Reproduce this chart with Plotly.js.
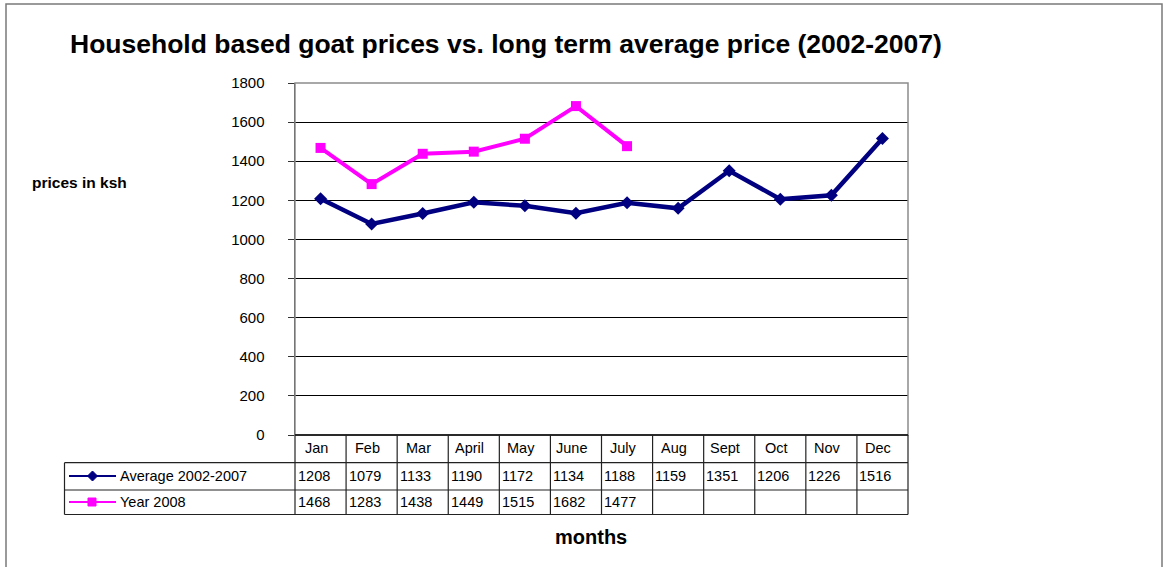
<!DOCTYPE html>
<html>
<head>
<meta charset="utf-8">
<script src="https://cdn.plot.ly/plotly-3.0.1.min.js"></script>
<style>html,body{margin:0;padding:0;background:#fff;}#chart{width:1163px;height:567px;}</style>
</head>
<body>
<div id="chart"></div>
<script>
var months = ["Jan","Feb","Mar","April","May","June","July","Aug","Sept","Oct","Nov","Dec"];
var avg0207 = [1208,1079,1133,1190,1172,1134,1188,1159,1351,1206,1226,1516];
var year2008 = [1468,1283,1438,1449,1515,1682,1477];
var seriesNames = ["Average 2002-2007","Year 2008"];
var yTicks = [0,200,400,600,800,1000,1200,1400,1600,1800];

var W = 1163, H = 567;
var L = 295, R = 908, T = 83, B = 435;
function px(p){ return (p - L) / (R - L); }
function py(p){ return (B - p) / (B - T); }

var FONT = "Arial, 'Liberation Sans', sans-serif";
var navy = "#000080", magenta = "#FF00FF";

var traces = [
  {x: months, y: avg0207, type: "scatter", mode: "lines+markers", name: seriesNames[0],
   line: {color: navy, width: 4.5}, marker: {symbol: "diamond", size: 10, color: navy}, cliponaxis: false},
  {x: months.slice(0, year2008.length), y: year2008, type: "scatter", mode: "lines+markers", name: seriesNames[1],
   line: {color: magenta, width: 4}, marker: {symbol: "square", size: 10, color: magenta}, cliponaxis: false}
];

var shapes = [];
var annotations = [];
var lineCol = "#222";
// outer chart border
shapes.push({type: "rect", xref: "paper", yref: "paper", x0: px(6), x1: px(1162), y0: py(580), y1: py(4),
  line: {color: "#7a7a7a", width: 1.5}, layer: "below"});
// plot area border (gray)
shapes.push({type: "rect", xref: "paper", yref: "paper", x0: 0, x1: 1, y0: 0, y1: 1,
  line: {color: "#8c8c8c", width: 1.5}, layer: "above"});
// table horizontal lines
var rowLines = [462.7, 490, 514.5];
shapes.push({type: "line", xref: "paper", yref: "paper", x0: 0, x1: 1, y0: 0, y1: 0, line: {color: "#000", width: 1.5}});
rowLines.forEach(function(r){
  shapes.push({type: "line", xref: "paper", yref: "paper", x0: px(64.5), x1: 1, y0: py(r), y1: py(r), line: {color: lineCol, width: 1.2}});
});
// left edge of legend cells
shapes.push({type: "line", xref: "paper", yref: "paper", x0: px(64.5), x1: px(64.5), y0: py(462.7), y1: py(514.5), line: {color: lineCol, width: 1.2}});
// table vertical lines
for (var i = 0; i <= months.length; i++) {
  var xf = i / months.length;
  shapes.push({type: "line", xref: "paper", yref: "paper", x0: xf, x1: xf, y0: 0, y1: py(514.5), line: {color: lineCol, width: 1.2}});
}
// legend keys in table
var rowCenters = [476, 502];
var keyCols = [navy, magenta];
rowCenters.forEach(function(rc, k){
  shapes.push({type: "line", xref: "paper", yref: "paper", x0: px(69), x1: px(116), y0: py(rc), y1: py(rc), line: {color: keyCols[k], width: 1.8}});
});
// diamond key
shapes.push({type: "path", xref: "paper", yref: "paper",
  path: "M " + px(92.5) + "," + py(471) + " L " + px(97.5) + "," + py(476) + " L " + px(92.5) + "," + py(481) + " L " + px(87.5) + "," + py(476) + " Z",
  fillcolor: navy, line: {color: navy, width: 1}});
// square key
shapes.push({type: "rect", xref: "paper", yref: "paper", x0: px(88), x1: px(96), y0: py(506), y1: py(498),
  fillcolor: magenta, line: {color: magenta, width: 1}});

seriesNames.forEach(function(n, k){
  annotations.push({xref: "paper", yref: "paper", x: px(118), y: py(rowCenters[k]), text: n, showarrow: false,
    xanchor: "left", yanchor: "middle", font: {family: FONT, size: 14.5, color: "#000"}});
});

// header row
months.forEach(function(m){
  annotations.push({xref: "x", yref: "paper", x: m, y: py(448), text: m, showarrow: false,
    xanchor: "center", yanchor: "middle", xshift: -4, font: {family: FONT, size: 14.5, color: "#000"}});
});
// data rows
var rows = [avg0207, year2008];
rows.forEach(function(vals, k){
  vals.forEach(function(v, j){
    annotations.push({xref: "x", yref: "paper", x: months[j], y: py(rowCenters[k]), text: String(v), showarrow: false,
      xanchor: "left", yanchor: "middle", xshift: -25, font: {family: FONT, size: 14.5, color: "#000"}});
  });
});

// axis titles
annotations.push({xref: "paper", yref: "paper", x: px(79), y: py(182), text: "<b>prices in ksh</b>", showarrow: false,
  xanchor: "center", yanchor: "middle", font: {family: FONT, size: 15.5, color: "#000"}});
annotations.push({xref: "paper", yref: "paper", x: px(591), y: py(537), text: "<b>months</b>", showarrow: false,
  xanchor: "center", yanchor: "middle", font: {family: FONT, size: 20, color: "#000"}});

var layout = {
  width: W, height: H,
  margin: {l: L, r: W - R, t: T, b: H - B, pad: 0},
  paper_bgcolor: "#fff", plot_bgcolor: "#fff",
  showlegend: false,
  title: {text: "<b>Household based goat prices vs. long term average price (2002-2007)</b>",
    x: 70 / W, xanchor: "left", xref: "container", y: 1 - 44 / H, yanchor: "middle", yref: "container",
    font: {family: FONT, size: 26.5, color: "#000"}},
  xaxis: {type: "category", categoryarray: months, range: [-0.5, months.length - 0.5],
    showticklabels: false, ticks: "", showgrid: false, zeroline: false, showline: false, fixedrange: true},
  yaxis: {range: [0, 1800], tickvals: yTicks, ticktext: yTicks.map(String), showgrid: true, gridcolor: "#000", gridwidth: 1,
    zeroline: false, showline: true, linecolor: "#333", linewidth: 1.5, ticks: "outside", ticklen: 6, tickcolor: "#333",
    ticklabelstandoff: 20, tickfont: {family: FONT, size: 15, color: "#000"}, fixedrange: true},
  shapes: shapes,
  annotations: annotations
};

Plotly.newPlot("chart", traces, layout, {displayModeBar: false, staticPlot: true});
</script>
</body>
</html>
